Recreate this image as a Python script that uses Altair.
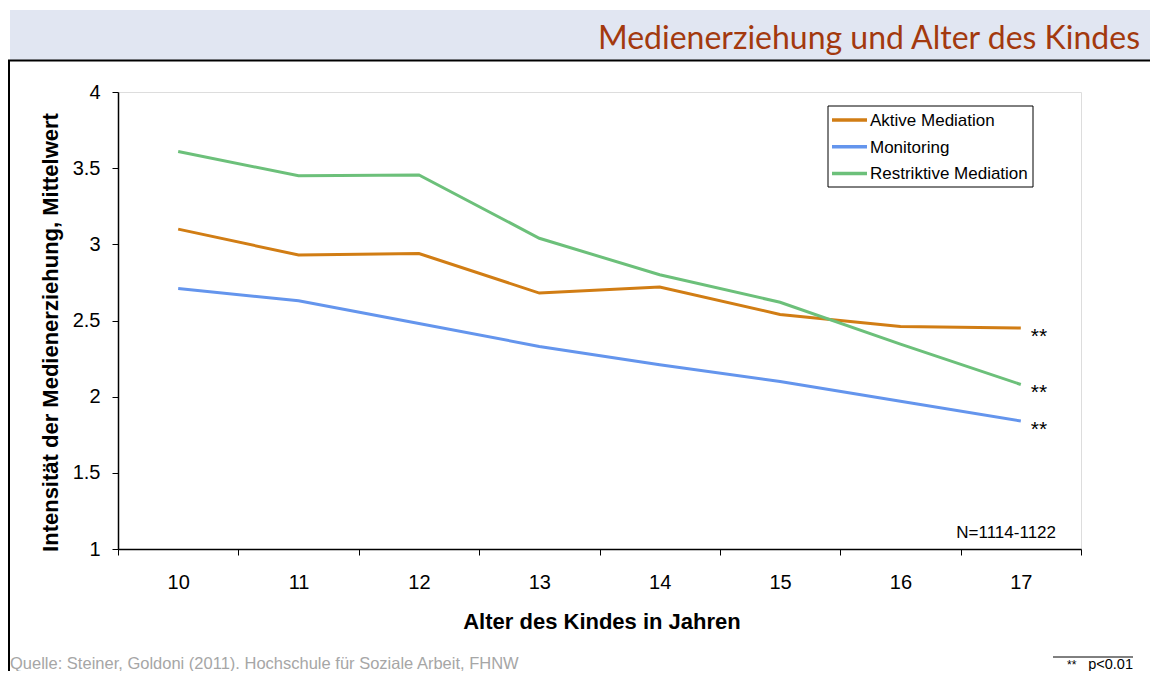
import altair as alt
import pandas as pd

ages = ["10", "11", "12", "13", "14", "15", "16", "17"]
series_names = ["Aktive Mediation", "Monitoring", "Restriktive Mediation"]
aktive = [3.10, 2.93, 2.94, 2.68, 2.72, 2.54, 2.46, 2.45]
monitoring = [2.71, 2.63, 2.48, 2.33, 2.21, 2.10, 1.97, 1.84]
restriktive = [3.61, 3.45, 3.455, 3.04, 2.80, 2.62, 2.345, 2.08]
colors = ["#D17D14", "#6495ED", "#6CC07A"]
signif = ["**", "**", "**"]
y_ticks = [1, 1.5, 2, 2.5, 3, 3.5, 4]

title_text = "Medienerziehung und Alter des Kindes"
x_title = "Alter des Kindes in Jahren"
y_title = "Intensität der Medienerziehung, Mittelwert"
n_text = "N=1114-1122"
source_text = "Quelle: Steiner, Goldoni (2011). Hochschule für Soziale Arbeit, FHNW"
foot_star = "**"
foot_text = "p<0.01"

rows = []
for name, vals in zip(series_names, [aktive, monitoring, restriktive]):
    for a, v in zip(ages, vals):
        rows.append({"Alter": a, "Wert": v, "Serie": name})
df = pd.DataFrame(rows)

end_df = pd.DataFrame({
    "Alter": [ages[-1]] * 3,
    "Wert": [aktive[-1], monitoring[-1], restriktive[-1]],
    "Serie": series_names,
    "sig": signif,
})

W, H = 963, 457
FONT = "Liberation Sans"

xenc = alt.X("Alter:N", sort=ages,
             scale=alt.Scale(type="band", paddingInner=0, paddingOuter=0),
             bandPosition=0.5,
             axis=alt.Axis(title=x_title, labelAngle=0, tickBand="extent",
                           labelFontSize=20, labelFont=FONT, labelColor="black",
                           labelPadding=17, tickSize=6, tickColor="black",
                           domainColor="black", domainWidth=1.5,
                           titleFont=FONT, titleFontSize=22, titleFontWeight="bold",
                           titleColor="black", titleX=W / 2 + 2, titleY=72,
                           titleBaseline="middle", titleAlign="center"))
yenc = alt.Y("Wert:Q", scale=alt.Scale(domain=[1, 4], nice=False, zero=False),
             axis=alt.Axis(title=y_title, values=y_ticks, format="~g", grid=False,
                           labelFontSize=20, labelFont=FONT, labelColor="black",
                           labelPadding=12, tickSize=6, tickColor="black",
                           domainColor="black", domainWidth=1.5,
                           titleFont=FONT, titleFontSize=22, titleFontWeight="bold",
                           titleColor="black", titleX=-68, titleY=240,
                           titleAngle=270, titleBaseline="middle", titleAlign="center"))

color_scale = alt.Scale(domain=series_names, range=colors)

lines = alt.Chart(df).mark_line(strokeWidth=3).encode(
    x=xenc, y=yenc,
    color=alt.Color("Serie:N", sort=series_names, scale=color_scale, legend=None),
)

stars = alt.Chart(end_df).mark_text(align="left", baseline="alphabetic", dx=10, dy=15,
                                    fontSize=21, font=FONT, color="black").encode(
    x=alt.X("Alter:N", sort=ages, bandPosition=0.5), y="Wert:Q", text="sig:N")

one = pd.DataFrame({"k": [0]})

# manual legend
legend_box = alt.Chart(one).mark_rect(fill="white", stroke="black", strokeWidth=1).encode(
    x=alt.value(710), x2=alt.value(915), y=alt.value(14), y2=alt.value(95))
legend_layers = [legend_box]
for i, (name, col) in enumerate(zip(series_names, colors)):
    yy = 28 + 26.7 * i
    legend_layers.append(
        alt.Chart(one).mark_rule(color=col, strokeWidth=3.5).encode(
            x=alt.value(714), x2=alt.value(749), y=alt.value(yy)))
    legend_layers.append(
        alt.Chart(one).mark_text(align="left", baseline="middle", fontSize=17,
                                 font=FONT, color="black").encode(
            x=alt.value(752), y=alt.value(yy + 1), text=alt.value(name)))

header = alt.Chart(one).mark_rect(color="#E1E6F2").encode(
    x=alt.value(-108), x2=alt.value(1040), y=alt.value(-82), y2=alt.value(-32))
hline = alt.Chart(one).mark_rule(color="black", strokeWidth=2).encode(
    x=alt.value(-110), x2=alt.value(1040), y=alt.value(-31.5))
vline = alt.Chart(one).mark_rule(color="black", strokeWidth=2).encode(
    x=alt.value(-109), y=alt.value(-32), y2=alt.value(580))
title = alt.Chart(one).mark_text(align="right", baseline="alphabetic", fontSize=32,
                                 font="Lato", color="#A3390E").encode(
    x=alt.value(1022), y=alt.value(-43), text=alt.value(title_text))
ntext = alt.Chart(one).mark_text(align="right", baseline="alphabetic", fontSize=17,
                                 font=FONT, color="black").encode(
    x=alt.value(938), y=alt.value(446), text=alt.value(n_text))
source = alt.Chart(one).mark_text(align="left", baseline="alphabetic", fontSize=16.5,
                                  font=FONT, color="#A6A6A6").encode(
    x=alt.value(-108), y=alt.value(577), text=alt.value(source_text))
fline = alt.Chart(one).mark_rule(color="black", strokeWidth=1).encode(
    x=alt.value(935), x2=alt.value(1015), y=alt.value(565))
fstar = alt.Chart(one).mark_text(align="left", baseline="alphabetic", fontSize=12,
                                 font=FONT, color="black").encode(
    x=alt.value(949), y=alt.value(577), text=alt.value(foot_star))
ftext = alt.Chart(one).mark_text(align="right", baseline="alphabetic", fontSize=14.5,
                                 font=FONT, color="black").encode(
    x=alt.value(1015), y=alt.value(577), text=alt.value(foot_text))

chart = alt.layer(header, hline, vline, title, lines, stars, *legend_layers,
                  ntext, source, fline, fstar, ftext).properties(
    width=W, height=H,
    padding={"left": 110, "top": 84, "right": 69, "bottom": 122},
    autosize=alt.AutoSizeParams(type="none"),
).configure_view(stroke="#A6A6A6", strokeWidth=1.5).configure(background="white")

chart.save("out.html", embed_options={"renderer": "svg", "actions": False})
